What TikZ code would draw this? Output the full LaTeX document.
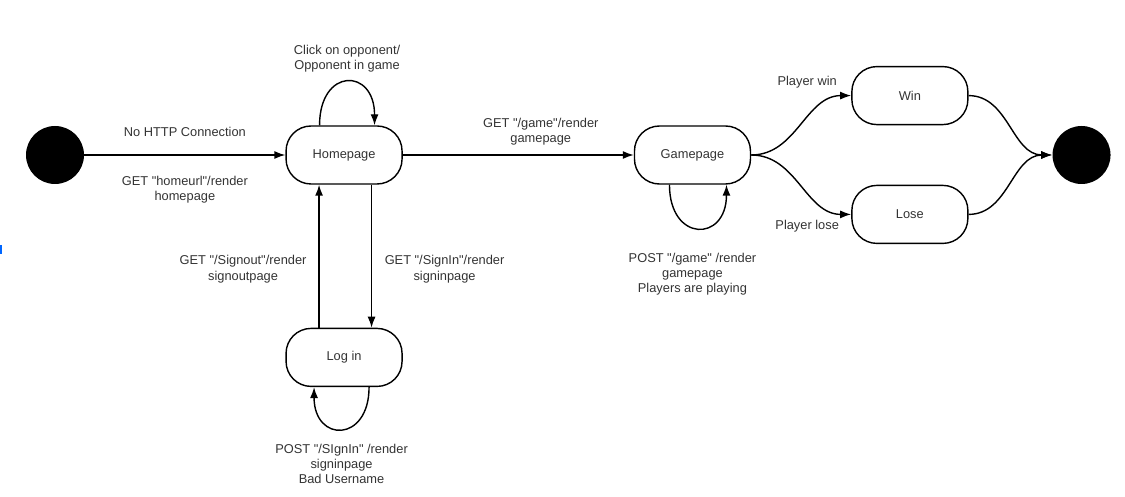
\documentclass[tikz,border=0pt]{standalone}
\usepackage{fontspec}
\setmainfont{Liberation Sans}
\usetikzlibrary{arrows.meta, positioning}
\newcommand{\dq}{\textquotedbl}

\begin{document}
\begin{tikzpicture}[
        font=\fontsize{7.3}{8.6}\selectfont,
        state/.style={draw, line width=0.8pt, rounded corners=0.5cm, align=center, minimum width=2.32cm, minimum height=1.16cm, text=black!80},
        dot/.style={circle, fill=black, minimum size=1.16cm, inner sep=0pt},
        arrow/.style={-{Latex[length=2.2mm, width=1.6mm]}, line width=0.8pt},
        lbl/.style={align=center, text=black!80}
    ]
    \useasboundingbox (0,0) rectangle (22.5,-9.94);
    \fill[blue!60!cyan] (0,-4.9) rectangle (0.04,-5.08);

    \node[dot] (start) at (1.1,-3.1) {};
    \node[state, right=4.02cm of start] (home) {Homepage};
    \node[state, below=2.86cm of home] (login) {Log in};
    \node[state, right=4.62cm of home] (game) {Gamepage};
    \node[state, above right=0cm and 2cm of game] (win) {Win};
    \node[state, below right=0cm and 2cm of game] (lose) {Lose};
    \node[dot, right=6.02cm of game] (end) {};

    \draw[arrow] (start) -- node[lbl, yshift=0.46cm] {No HTTP Connection}
        node[lbl, yshift=-0.7cm] {GET \dq homeurl\dq/render\\homepage} (home);
    \draw[arrow] (home) -- node[lbl, xshift=0.45cm, yshift=0.46cm] {GET \dq/game\dq/render\\gamepage} (game);

    % self loops
    \draw[arrow] ([xshift=-0.49cm]home.north) to[out=90, in=90, looseness=2.7]
        node[lbl, yshift=0.46cm] {Click on opponent/\\Opponent in game} ([xshift=0.61cm]home.north);
    \draw[arrow] ([xshift=0.5cm]login.south) to[out=-90, in=-90, looseness=2.6]
        node[lbl, yshift=-0.7cm] {POST \dq/SIgnIn\dq{} /render\\signinpage\\Bad Username} ([xshift=-0.6cm]login.south);
    \draw[arrow] ([xshift=-0.46cm]game.south) to[out=-90, in=-90, looseness=2.6]
        node[lbl, xshift=-0.11cm, yshift=-0.92cm] {POST \dq/game\dq{} /render\\gamepage\\Players are playing} ([xshift=0.68cm]game.south);

    \draw[arrow] ([xshift=-0.5cm]login.north) -- node[lbl, xshift=-1.52cm, yshift=-0.26cm] {GET \dq/Signout\dq/render\\signoutpage} ([xshift=-0.5cm]home.south);
    \draw[arrow] ([xshift=0.55cm]home.south) -- node[lbl, xshift=1.46cm, yshift=-0.26cm] {GET \dq/SignIn\dq/render\\signinpage} ([xshift=0.55cm]login.north);

    \draw[arrow] (game.east) to[out=0, in=180] node[lbl, xshift=0.12cm, yshift=0.86cm] {Player win} (win.west);
    \draw[arrow] (game.east) to[out=0, in=180] node[lbl, xshift=0.12cm, yshift=-0.82cm] {Player lose} (lose.west);
    \draw[arrow] (win.east) to[out=0, in=180] (end.west);
    \draw[arrow] (lose.east) to[out=0, in=180] (end.west);
\end{tikzpicture}
\end{document}
